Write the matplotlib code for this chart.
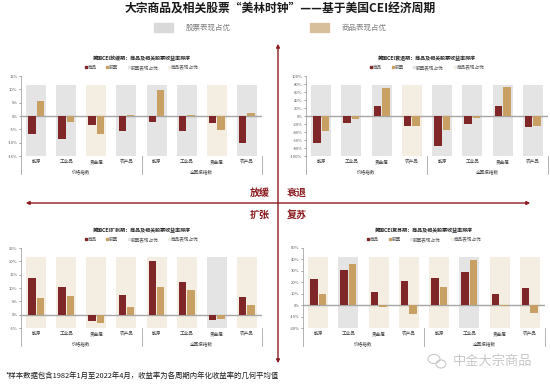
import matplotlib
matplotlib.use('Agg')
import matplotlib.pyplot as plt
import matplotlib.transforms as mtransforms
from matplotlib.lines import Line2D
from matplotlib.patches import Rectangle
import numpy as np

plt.rcParams['font.family'] = ['Noto Sans CJK SC', 'DejaVu Sans']

# 数据
categories = ['能源', '工业品', '贵金属', '农产品'] * 2
index_groups = ['价格指数', '全回报指数']

# 放缓期
slow_commodity = [-6.6, -8.5, -3.2, -5.5, -2.3, -5.5, -2.8, -10.0]
slow_equity = [5.5, -2.4, -6.6, 0.5, 9.8, 0.4, -5.4, 1.2]
slow_winner = ['股票', '股票', '商品', '股票', '股票', '股票', '商品', '股票']

# 衰退期
rec_commodity = [-67.0, -18.0, 25.0, -24.5, -76.0, -20.0, 25.0, -27.0]
rec_equity = [-37.0, -8.5, 70.0, -25.5, -34.0, -4.5, 72.5, -24.0]
rec_winner = ['股票', '股票', '股票', '商品', '股票', '股票', '股票', '股票']

# 扩张期
exp_commodity = [13.9, 10.2, -2.2, 7.2, 20.2, 12.2, -2.1, 6.5]
exp_equity = [6.1, 6.9, -3.1, 3.0, 10.3, 9.3, -1.5, 3.6]
exp_winner = ['商品', '商品', '商品', '商品', '商品', '商品', '股票', '商品']

# 复苏期
recov_commodity = [23.2, 30.4, 11.6, 21.2, 23.8, 29.0, 9.6, 14.8]
recov_equity = [9.9, 36.2, -1.7, -8.1, 15.7, 39.1, -0.6, -7.2]
recov_winner = ['商品', '股票', '商品', '商品', '商品', '股票', '商品', '商品']

RED = '#7E2628'
TAN = '#C8A064'
BG_GREY = '#E4E4E4'
BG_TAN = '#F4EDE1'
LINE = '#8B1B1F'


def draw_panel(ax, title, commodity, equity, winner, ylim, step, bg_range):
    x = np.arange(len(categories))
    bg_colors = [BG_GREY if w == '股票' else BG_TAN for w in winner]
    ax.bar(x, bg_range[1] - bg_range[0], bottom=bg_range[0], width=0.66,
           color=bg_colors, zorder=1)
    ax.axhline(0, color='#A6A6A6', lw=1.0, zorder=2)
    ax.bar(x - 0.14, commodity, width=0.245, color=RED, zorder=3)
    ax.bar(x + 0.14, equity, width=0.245, color=TAN, zorder=3)

    ax.set_xlim(-0.5, 7.5)
    ax.set_ylim(*ylim)
    ticks = np.arange(ylim[0], ylim[1] + step / 2, step)
    ax.set_yticks(ticks)
    ax.set_yticklabels([f'{t:.0f}%' for t in ticks])
    ax.tick_params(axis='y', labelsize=3, length=1.5, width=0.4, pad=1,
                   colors='#595959')
    ax.set_xticks(x)
    ax.set_xticklabels(categories)
    ax.tick_params(axis='x', labelsize=3.3, length=0, pad=2.2,
                   colors='#404040')
    for s in ['top', 'right', 'bottom']:
        ax.spines[s].set_visible(False)
    ax.spines['left'].set_color('#A6A6A6')
    ax.spines['left'].set_linewidth(0.6)

    trans = mtransforms.blended_transform_factory(ax.transData, ax.transAxes)
    for xs in [-0.5, 3.5, 7.5]:
        ax.plot([xs, xs], [0, -0.22], color='#A6A6A6', lw=0.6,
                transform=trans, clip_on=False)
    for i, g in enumerate(index_groups):
        ax.text(1.5 + 4 * i, -0.2, g, transform=trans, ha='center',
                va='center', fontsize=3.3, color='#404040')

    ax.text(0.5, 1.22, title, transform=ax.transAxes, ha='center',
            va='center', fontsize=3.6, fontweight='bold', color='#262626')
    handles = [
        Line2D([], [], marker='s', ls='', color=RED, markersize=1.8),
        Line2D([], [], marker='s', ls='', color=TAN, markersize=1.8),
        Line2D([], [], marker='s', ls='', color=BG_GREY, markersize=1.8),
        Line2D([], [], marker='s', ls='', color=BG_TAN, markersize=1.8),
    ]
    labels = ['商品', '股票', '股票表现占优', '商品表现占优']
    leg = ax.legend(handles, labels, loc='center', bbox_to_anchor=(0.5, 1.11),
                    ncol=4, frameon=False, fontsize=3.3, handlelength=0.6,
                    handletextpad=0.1, columnspacing=2.0, borderaxespad=0)
    for t in leg.get_texts():
        t.set_color('#595959')


fig = plt.figure(figsize=(5.5, 3.84), dpi=100)
W, H = 550, 384


def box(left, right, top, bottom):
    return [left / W, 1 - bottom / H, (right - left) / W, (bottom - top) / H]


ax_tl = fig.add_axes(box(21, 262, 76, 156))
ax_tr = fig.add_axes(box(306, 548, 76, 156))
ax_bl = fig.add_axes(box(21, 262, 248, 328))
ax_br = fig.add_axes(box(303, 545, 248, 328))

draw_panel(ax_tl, '美国CEI放缓期：商品及相关股票收益率排序',
           slow_commodity, slow_equity, slow_winner, (-15, 15), 5, (-15, 11.7))
draw_panel(ax_tr, '美国CEI衰退期：商品及相关股票收益率排序',
           rec_commodity, rec_equity, rec_winner, (-100, 100), 20, (-100, 78))
draw_panel(ax_bl, '美国CEI扩张期：商品及相关股票收益率排序',
           exp_commodity, exp_equity, exp_winner, (-5, 25), 5, (-5, 21.5))
draw_panel(ax_br, '美国CEI复苏期：商品及相关股票收益率排序',
           recov_commodity, recov_equity, recov_winner, (-20, 50), 10, (-20, 42))

# 总标题
fig.text(280 / W, 1 - 9 / H, '大宗商品及相关股票“美林时钟”——基于美国CEI经济周期',
         ha='center', va='center', fontsize=8.5, fontweight='bold', color='#1a1a1a')

# 顶部图例
fig.patches.append(Rectangle((154 / W, 1 - 32 / H), 19 / W, 9 / H,
                             transform=fig.transFigure, color='#D9D9D9'))
fig.text(186 / W, 1 - 27.5 / H, '股票表现占优', ha='left', va='center',
         fontsize=5.4, style='italic', color='#7F7F7F')
fig.patches.append(Rectangle((310 / W, 1 - 32 / H), 19 / W, 9 / H,
                             transform=fig.transFigure, color='#D8BF9C'))
fig.text(342 / W, 1 - 27.5 / H, '商品表现占优', ha='left', va='center',
         fontsize=5.4, style='italic', color='#7F7F7F')

# 坐标轴箭头
fig.add_artist(matplotlib.patches.FancyArrowPatch(
    (278 / W, 1 - 366 / H), (278 / W, 1 - 41 / H), transform=fig.transFigure,
    arrowstyle='<|-|>', mutation_scale=5, color=LINE, lw=1.0))
fig.add_artist(matplotlib.patches.FancyArrowPatch(
    (23 / W, 1 - 203 / H), (533 / W, 1 - 203 / H), transform=fig.transFigure,
    arrowstyle='<|-|>', mutation_scale=5, color=LINE, lw=1.0))

for label, px, py in [('放缓', 260, 193), ('衰退', 297, 193),
                      ('扩张', 260, 215), ('复苏', 297, 215)]:
    fig.text(px / W, 1 - py / H, label, ha='center', va='center',
             fontsize=7.2, fontweight='bold', color=LINE)

# 脚注与水印
fig.text(6 / W, 1 - 376 / H,
         '*样本数据包含1982年1月至2022年4月，收益率为各周期内年化收益率的几何平均值',
         ha='left', va='center', fontsize=5.3, color='#1a1a1a')
fig.text(492 / W, 1 - 361 / H, '中金大宗商品', ha='center', va='center',
         fontsize=9.5, color='#C8C8C8')
fig.add_artist(matplotlib.patches.Ellipse((434 / W, 1 - 359 / H), 12 / W, 9 / H,
               transform=fig.transFigure, fill=False, ec='#C8C8C8', lw=0.8))
fig.add_artist(matplotlib.patches.Ellipse((441 / W, 1 - 364 / H), 10 / W, 8 / H,
               transform=fig.transFigure, fill=False, ec='#C8C8C8', lw=0.8))

fig.savefig('out.png', dpi=100)
